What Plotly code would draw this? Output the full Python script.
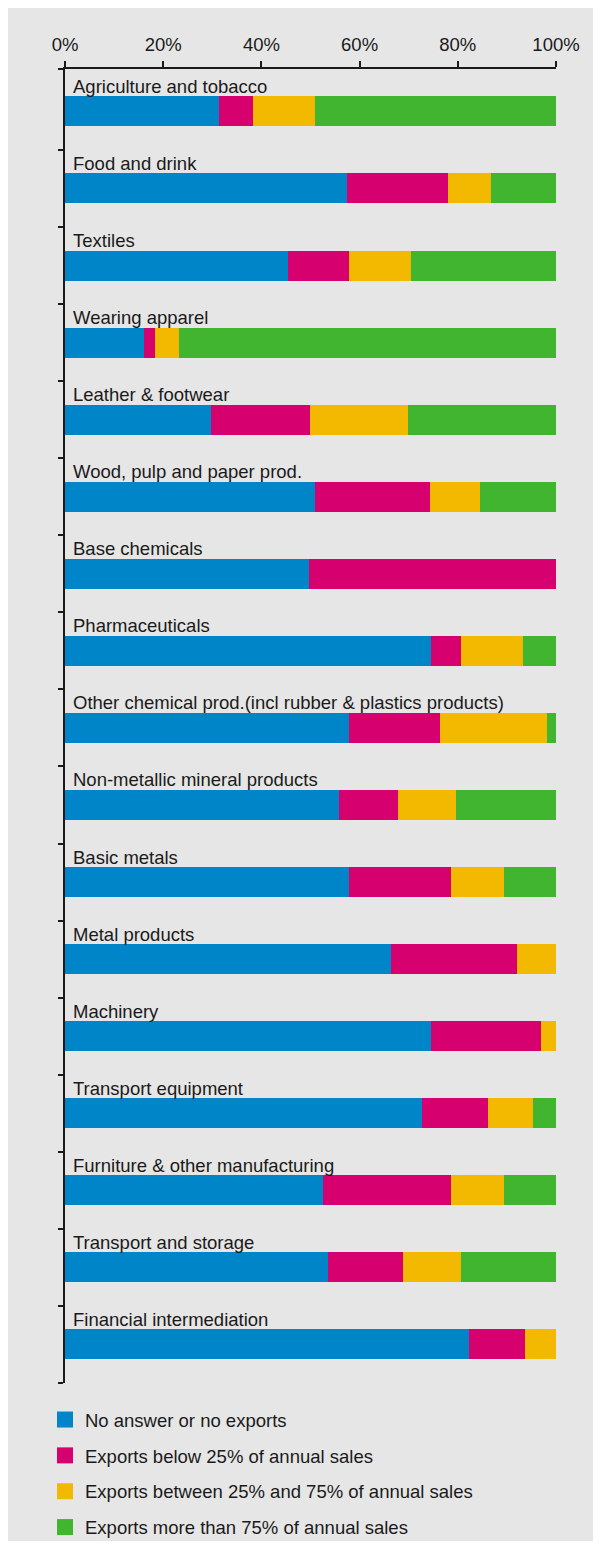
import plotly.graph_objects as go

categories = [
    "Agriculture and tobacco",
    "Food and drink",
    "Textiles",
    "Wearing apparel",
    "Leather & footwear",
    "Wood, pulp and paper prod.",
    "Base chemicals",
    "Pharmaceuticals",
    "Other chemical prod.(incl rubber & plastics products)",
    "Non-metallic mineral products",
    "Basic metals",
    "Metal products",
    "Machinery",
    "Transport equipment",
    "Furniture & other manufacturing",
    "Transport and storage",
    "Financial intermediation",
]

no_exports = [31.4, 57.4, 45.4, 16.0, 29.7, 50.9, 49.7, 74.5, 57.8, 55.8, 57.8, 66.4, 74.5, 72.7, 52.5, 53.6, 82.2]
below_25 = [6.9, 20.6, 12.4, 2.3, 20.2, 23.4, 50.3, 6.1, 18.5, 12.0, 20.8, 25.7, 22.4, 13.5, 26.1, 15.2, 11.5]
between_25_75 = [12.6, 8.8, 12.7, 4.9, 20.0, 10.2, 0.0, 12.6, 21.8, 11.8, 10.8, 7.9, 3.1, 9.1, 10.8, 11.9, 6.3]
above_75 = [49.1, 13.2, 29.5, 76.8, 30.1, 15.5, 0.0, 6.7, 1.8, 20.4, 10.6, 0.0, 0.0, 4.7, 10.6, 19.3, 0.0]

series_names = [
    "No answer or no exports",
    "Exports below 25% of annual sales",
    "Exports between 25% and 75% of annual sales",
    "Exports more than 75% of annual sales",
]
series_colors = ["#0085c8", "#d6006e", "#f2b900", "#41b52f"]
x_ticks = [0, 20, 40, 60, 80, 100]
x_tick_labels = ["0%", "20%", "40%", "60%", "80%", "100%"]

FONT = "Liberation Sans, Arial, Helvetica, sans-serif"
TXT = "#1a1a1a"

# figure geometry (pixels, figure coordinates; page adds an 8px body margin)
W, H = 593, 1533
L, R, T, B = 57, 45, 61, 158
PW, PH = W - L - R, H - T - B

idx = list(range(len(categories)))
fig = go.Figure()
values = [no_exports, below_25, between_25_75, above_75]
for name, col, vals in zip(series_names, series_colors, values):
    fig.add_trace(go.Bar(
        y=idx, x=vals, orientation="h", name=name,
        marker=dict(color=col, line=dict(width=0)),
        width=0.389, showlegend=False, hoverinfo="x+name",
    ))
# legend proxies (square markers)
for k, (name, col) in enumerate(zip(series_names, series_colors)):
    fig.add_trace(go.Scatter(
        x=[None], y=[None], mode="markers", name=name,
        marker=dict(symbol="square", size=16, color=col),
        legendgroup=f"g{k}", showlegend=True,
    ))

for i, c in enumerate(categories):
    fig.add_annotation(
        x=0, y=i, xref="x", yref="y", text=c, showarrow=False,
        xanchor="left", yanchor="middle", xshift=6, yshift=25,
        font=dict(family=FONT, size=18.5, color=TXT),
    )

def px_x(p):
    return (p - L) / PW

def px_y(p):
    return (H - B - p) / PH

fig.update_layout(
    width=W, height=H,
    margin=dict(l=L, r=R, t=T, b=B, pad=0, autoexpand=False),
    barmode="stack", bargap=0,
    paper_bgcolor="#e6e6e6", plot_bgcolor="#e6e6e6",
    font=dict(family=FONT, size=18, color=TXT),
    showlegend=True,
    legend=dict(
        x=px_x(37), y=px_y(1393), xanchor="left", yanchor="top",
        bgcolor="rgba(0,0,0,0)", tracegroupgap=8.8, traceorder="grouped",
        font=dict(family=FONT, size=18.5, color=TXT), itemclick=False,
    ),
    xaxis=dict(
        side="top", range=[0, 100], tickvals=x_ticks, ticktext=x_tick_labels,
        showgrid=False, zeroline=False, showline=True, linecolor=TXT, linewidth=1.5,
        ticks="outside", ticklen=6, tickwidth=1.5, tickcolor=TXT,
        ticklabelstandoff=3,
        tickfont=dict(family=FONT, size=18.5, color=TXT), fixedrange=True,
    ),
    yaxis=dict(
        range=[16.5, -0.55], tickvals=[-0.55] + [i + 0.5 for i in idx],
        showticklabels=False, showgrid=False, zeroline=False,
        showline=True, linecolor=TXT, linewidth=1.5,
        ticks="outside", ticklen=5, tickwidth=1.5, tickcolor=TXT, fixedrange=True,
    ),
)

fig.write_html("out.html")
